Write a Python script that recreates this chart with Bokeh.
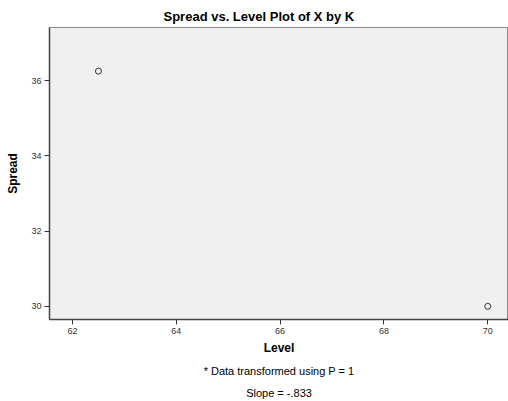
from bokeh.plotting import figure
from bokeh.models import ColumnDataSource, Range1d, FixedTicker, Title
from bokeh.embed import file_html
from bokeh.resources import INLINE

# Data
level = [62.5, 70.0]
spread = [36.25, 30.0]
x_ticks = [62, 64, 66, 68, 70]
y_ticks = [30, 32, 34, 36]
title_text = "Spread vs. Level Plot of X by K"
note1 = "* Data transformed using P = 1"
note2 = "Slope = -.833"

src = ColumnDataSource(dict(level=level, spread=spread))

p = figure(width=508, height=401, output_backend="svg", toolbar_location=None,
           x_range=Range1d(61.557, 70.4), y_range=Range1d(29.65, 37.41),
           min_border_left=49, min_border_right=0, min_border_top=27, min_border_bottom=20)

p.title.text = title_text
p.title.align = "left"
p.title.offset = 114
p.title.text_font = "Liberation Sans"
p.title.text_font_size = "13px"
p.title.text_font_style = "bold"
p.title.text_color = "#000000"
p.title.standoff = 8

p.background_fill_color = "#F0F0F0"
p.border_fill_color = "white"
p.outline_line_color = "#888888"
p.outline_line_width = 1
p.grid.visible = False

for ax, ticks, lab in ((p.xaxis[0], x_ticks, "Level"), (p.yaxis[0], y_ticks, "Spread")):
    ax.ticker = FixedTicker(ticks=ticks)
    ax.minor_tick_line_color = None
    ax.major_tick_in = 0
    ax.major_tick_out = 5
    ax.major_tick_line_color = "#333333"
    ax.axis_line_color = "#444444"
    ax.axis_line_width = 1.5
    ax.major_label_text_font = "Liberation Sans"
    ax.major_label_text_font_size = "9px"
    ax.major_label_text_color = "#333333"
    ax.major_label_standoff = 3
    ax.axis_label = lab
    ax.axis_label_text_font = "Liberation Sans"
    ax.axis_label_text_font_size = "12px"
    ax.axis_label_text_font_style = "bold"
    ax.axis_label_text_color = "#000000"
    ax.axis_label_standoff = 8

p.xaxis[0].axis_label_standoff = 4
p.yaxis[0].major_label_orientation = "horizontal"

p.scatter("level", "spread", source=src, size=6, marker="circle",
          fill_color=None, line_color="#333333", line_width=1)

t2 = Title(text=note1, align="center", text_font="Liberation Sans", text_font_size="11px",
           text_font_style="normal", text_color="#000000", standoff=10)
t3 = Title(text=note2, align="center", text_font="Liberation Sans", text_font_size="11px",
           text_font_style="normal", text_color="#000000", standoff=6)
p.add_layout(t2, "below")
p.add_layout(t3, "below")

open("out.html", "w").write(file_html(p, INLINE))
